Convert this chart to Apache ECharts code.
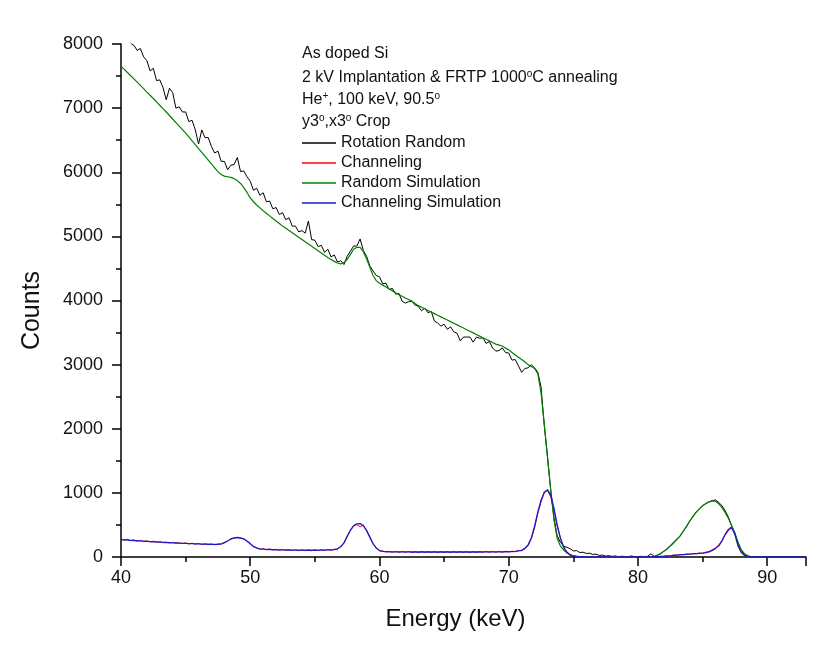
<!DOCTYPE html>
<html>
<head>
<meta charset="utf-8">
<script src="https://cdn.jsdelivr.net/npm/echarts@6/dist/echarts.min.js"></script>
<style>
html,body{margin:0;padding:0;background:#fff;}
#chart{width:821px;height:652px;}
</style>
</head>
<body>
<div id="chart"></div>
<script>
// Energy channels (keV)
var energy = [
40,40.25,40.5,40.75,41,41.25,41.5,41.75,42,42.25,42.5,42.75,43,43.25,43.5,43.75,
44,44.25,44.5,44.75,45,45.25,45.5,45.75,46,46.25,46.5,46.75,47,47.25,47.5,47.75,
48,48.25,48.5,48.75,49,49.25,49.5,49.75,50,50.25,50.5,50.75,51,51.25,51.5,51.75,
52,52.25,52.5,52.75,53,53.25,53.5,53.75,54,54.25,54.5,54.75,55,55.25,55.5,55.75,
56,56.25,56.5,56.75,57,57.25,57.5,57.75,58,58.25,58.5,58.75,59,59.25,59.5,59.75,
60,60.25,60.5,60.75,61,61.25,61.5,61.75,62,62.25,62.5,62.75,63,63.25,63.5,63.75,
64,64.25,64.5,64.75,65,65.25,65.5,65.75,66,66.25,66.5,66.75,67,67.25,67.5,67.75,
68,68.25,68.5,68.75,69,69.25,69.5,69.75,70,70.25,70.5,70.75,71,71.25,71.5,71.75,
72,72.25,72.5,72.75,73,73.25,73.5,73.75,74,74.25,74.5,74.75,75,75.25,75.5,75.75,
76,76.25,76.5,76.75,77,77.25,77.5,77.75,78,78.25,78.5,78.75,79,79.25,79.5,79.75,
80,80.25,80.5,80.75,81,81.25,81.5,81.75,82,82.25,82.5,82.75,83,83.25,83.5,83.75,
84,84.25,84.5,84.75,85,85.25,85.5,85.75,86,86.25,86.5,86.75,87,87.25,87.5,87.75,
88,88.25,88.5,88.75,89,89.25,89.5,89.75,90,90.25,90.5,90.75,91,91.25,91.5,91.75,
92,92.25,92.5,92.75,93
];

// Rotation Random (measured)
var rotationRandom = [
8250,8170,8090,8010,7980,7900,7930,7800,7740,7580,7620,7430,7440,7320,7130,7310,
7240,7000,7020,6940,6940,6790,6810,6660,6440,6660,6540,6540,6400,6300,6330,6170,
6170,6040,6110,6120,6230,6010,6020,5930,5860,5720,5750,5640,5680,5540,5550,5430,
5450,5340,5370,5260,5290,5160,5160,5070,5090,5050,5240,4950,4940,4840,4860,4750,
4800,4680,4710,4600,4620,4560,4690,4770,4850,4850,4960,4780,4690,4540,4460,4390,
4370,4260,4270,4170,4190,4100,4110,3990,3960,3980,3990,3930,3910,3840,3880,3810,
3830,3680,3650,3600,3630,3550,3590,3510,3490,3370,3430,3430,3430,3350,3430,3410,
3420,3330,3360,3260,3210,3220,3260,3190,3180,3070,3080,2980,2880,2940,2950,3000,
2950,2880,2650,2050,1560,1040,610,330,230,170,150,130,95,100,70,75,
55,60,40,45,25,30,15,20,10,15,5,12,8,5,15,5,
8,10,5,12,50,10,25,50,90,130,180,230,280,320,400,470,
560,630,700,750,800,830,860,880,890,850,800,720,620,480,380,200,
100,30,10,5,0,3,0,2,0,0,2,0,0,1,0,0,
2,0,0,1,0
];

// Channeling (measured)
var channeling = [
285,262,278,255,266,248,258,240,252,236,246,228,240,222,233,218,
228,212,223,208,220,204,215,200,211,196,206,192,205,190,204,200,
230,245,288,292,310,290,288,244,212,158,146,120,130,112,124,108,
120,105,118,102,116,100,114,98,112,98,112,97,113,99,114,101,
118,104,122,122,168,212,330,410,492,505,470,496,405,318,202,148,
95,94,78,88,75,86,73,85,72,85,71,84,70,86,72,84,
71,85,70,86,72,84,70,85,71,86,72,84,70,85,73,86,
72,86,73,87,74,88,75,89,77,92,82,102,98,128,175,285,
455,680,860,1000,1040,935,730,480,300,160,80,40,20,12,8,6,
8,3,10,2,6,9,2,7,4,10,3,8,2,7,11,3,
6,2,9,4,7,3,9,12,14,20,15,30,28,40,35,48,
42,55,50,62,58,75,85,112,140,185,260,360,440,470,360,180,
75,28,10,4,2,0,3,0,0,2,0,0,1,0,0,2,
0,0,1,0,0
];

// Random Simulation
var randomSimulation = [
7655,7605,7555,7505,7455,7405,7355,7305,7250,7200,7150,7098,7045,6993,6940,6885,
6830,6775,6720,6665,6610,6550,6490,6430,6370,6310,6250,6190,6130,6070,6010,5965,
5940,5930,5920,5900,5870,5825,5760,5685,5600,5540,5490,5445,5400,5360,5320,5280,
5240,5200,5160,5125,5090,5055,5020,4985,4950,4915,4880,4845,4810,4775,4740,4705,
4670,4640,4610,4585,4570,4590,4640,4720,4800,4830,4830,4760,4650,4520,4390,4310,
4270,4240,4210,4180,4150,4120,4090,4065,4040,4015,3990,3955,3920,3895,3870,3845,
3820,3795,3770,3745,3720,3695,3670,3645,3620,3595,3570,3545,3520,3495,3470,3445,
3420,3395,3370,3345,3320,3305,3290,3260,3230,3190,3150,3115,3080,3040,3000,2970,
2940,2860,2560,2070,1560,1040,580,290,170,110,65,35,20,12,5,2,
0,0,0,0,0,0,0,0,0,0,0,0,0,0,0,0,
0,0,0,0,0,5,30,55,90,125,170,215,270,330,400,480,
560,630,700,750,800,835,860,870,870,830,770,690,600,490,360,230,
110,50,20,8,0,0,0,0,0,0,0,0,0,0,0,0,
0,0,0,0,0
];

// Channeling Simulation
var channelingSimulation = [
272,268,264,260,257,253,250,247,244,241,238,235,232,229,226,224,
221,219,216,214,212,210,208,206,204,202,200,199,198,197,198,205,
222,250,280,298,303,298,280,250,205,165,140,128,122,119,117,115,
113,112,111,110,109,108,107,106,106,105,105,105,105,106,107,108,
110,112,116,128,160,220,320,420,485,518,522,490,415,310,210,140,
100,88,84,82,81,80,80,79,79,79,78,78,78,78,78,78,
78,78,78,78,78,78,78,78,78,78,78,78,78,78,78,78,
79,79,79,80,80,80,81,82,83,85,88,95,105,135,190,300,
480,700,885,1010,1050,960,760,500,290,150,70,30,12,6,4,3,
3,3,3,3,3,3,3,3,3,3,3,3,3,3,3,3,
3,3,3,3,3,4,5,7,10,14,18,24,30,34,38,42,
45,48,52,56,60,68,80,104,135,175,250,350,420,455,350,170,
70,25,8,3,0,0,0,0,0,0,0,0,0,0,0,0,
0,0,0,0,0
];

var seriesNames = ['Rotation Random', 'Channeling', 'Random Simulation', 'Channeling Simulation'];
var seriesColors = ['#000000', '#ff0000', '#008000', '#1a1acc'];
var seriesWidths = [1, 1, 1.2, 1.3];
var seriesValues = [rotationRandom, channeling, randomSimulation, channelingSimulation];

var headerLines = [
  'As doped Si',
  '2 kV Implantation & FRTP 1000{sup|o}C annealing',
  'He{sup|+}, 100 keV, 90.5{sup|o}',
  'y3{sup|o},x3{sup|o} Crop'
];

function pairs(vals) {
  return energy.map(function (e, i) { return [e, vals[i]]; });
}

var FONT = '"Liberation Sans", Arial, sans-serif';
var chart = echarts.init(document.getElementById('chart'), null, {renderer: 'canvas'});

var headerY = [46, 69, 91, 113];
var graphics = headerLines.map(function (t, i) {
  return {
    type: 'text',
    left: 302,
    top: headerY[i],
    style: {
      text: t,
      fill: '#111',
      font: '16px ' + FONT,
      rich: {
        sup: { fontSize: 10, fontFamily: FONT, fill: '#111', verticalAlign: 'top', padding: [0, 0, 7, 0] }
      }
    }
  };
});

chart.setOption({
  animation: false,
  backgroundColor: '#ffffff',
  grid: { left: 121, right: 15, top: 44, bottom: 95, containLabel: false },
  legend: {
    show: true,
    data: seriesNames,
    orient: 'vertical',
    left: 302,
    top: 133,
    icon: 'rect',
    itemWidth: 34,
    itemHeight: 1.3,
    itemGap: 0,
    padding: 0,
    selectedMode: false,
    textStyle: { fontSize: 16, fontFamily: FONT, color: '#111', lineHeight: 20, height: 20 }
  },
  xAxis: {
    type: 'value',
    min: 40,
    max: 93,
    interval: 10,
    name: 'Energy (keV)',
    nameLocation: 'middle',
    nameGap: 50,
    nameTextStyle: { fontSize: 24, fontFamily: FONT, color: '#111', padding: [0, 16, 0, 0] },
    axisLine: { show: true, onZero: false, lineStyle: { color: '#000', width: 1.5 } },
    axisTick: { show: true, inside: false, length: 9, lineStyle: { color: '#000', width: 1.5 } },
    minorTick: { show: true, splitNumber: 2, length: 5, lineStyle: { color: '#000', width: 1.5 } },
    axisLabel: { fontSize: 18, fontFamily: FONT, color: '#111', margin: 12, showMaxLabel: false },
    splitLine: { show: false },
    minorSplitLine: { show: false }
  },
  yAxis: {
    type: 'value',
    min: 0,
    max: 8000,
    interval: 1000,
    name: 'Counts',
    nameLocation: 'middle',
    nameGap: 76,
    nameRotate: 90,
    nameTextStyle: { fontSize: 25, fontFamily: FONT, color: '#111', padding: [0, 20, 0, 0] },
    axisLine: { show: true, onZero: false, lineStyle: { color: '#000', width: 1.5 } },
    axisTick: { show: true, inside: false, length: 9, lineStyle: { color: '#000', width: 1.5 } },
    minorTick: { show: true, splitNumber: 2, length: 5, lineStyle: { color: '#000', width: 1.5 } },
    axisLabel: { fontSize: 18, fontFamily: FONT, color: '#111', margin: 18,
      formatter: function (v) { return String(v); } },
    splitLine: { show: false },
    minorSplitLine: { show: false }
  },
  graphic: graphics,
  series: seriesValues.map(function (vals, i) {
    return {
      name: seriesNames[i],
      type: 'line',
      data: pairs(vals),
      showSymbol: false,
      symbol: 'none',
      clip: true,
      lineStyle: { color: seriesColors[i], width: seriesWidths[i] },
      itemStyle: { color: seriesColors[i] },
      emphasis: { disabled: true },
      z: 2 + i
    };
  })
});
</script>
</body>
</html>
